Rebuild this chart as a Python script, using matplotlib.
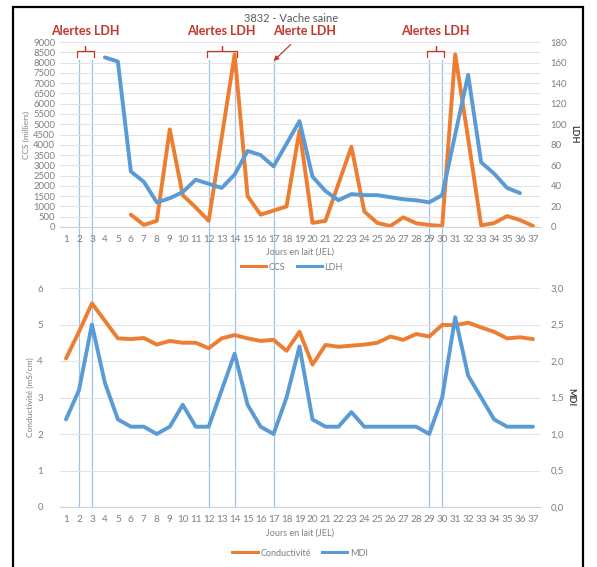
import matplotlib
matplotlib.use("Agg")
import matplotlib.pyplot as plt
from matplotlib.lines import Line2D
from matplotlib.patches import Rectangle
import numpy as np

plt.rcParams['font.family'] = ['Lato', 'DejaVu Sans']

# ---------------- data ----------------
days = list(range(1, 38))
ccs = [None, None, None, None, None, 600, 100, 300, 4750, 1550, 950, 300, 4350, 8400,
       1500, 600, 800, 1000, 4700, 200, 300, 2100, 3900, 750, 200, 50, 470, 180, 100,
       50, 8400, 4300, 80, 190, 530, 340, 50]
ldh = [None, None, None, 165, 161, 54, 44, 24, 28, 34, 46, 42, 38, 51, 74, 70, 59, 81,
       103, 49, 35, 26, 32, 31, 31, 29, 27, 26, 24, 31, 90, 148, 63, 52, 38, 33, None]
cond = [4.07, 4.8, 5.58, 5.1, 4.62, 4.6, 4.63, 4.45, 4.55, 4.5, 4.5, 4.35, 4.62, 4.71,
        4.62, 4.55, 4.58, 4.28, 4.8, 3.9, 4.44, 4.39, 4.42, 4.45, 4.5, 4.67, 4.58, 4.74,
        4.67, 4.99, 4.98, 5.05, 4.92, 4.8, 4.62, 4.65, 4.6]
mdi = [1.2, 1.6, 2.5, 1.7, 1.2, 1.1, 1.1, 1.0, 1.1, 1.4, 1.1, 1.1, 1.6, 2.1, 1.4, 1.1,
       1.0, 1.5, 2.2, 1.2, 1.1, 1.1, 1.3, 1.1, 1.1, 1.1, 1.1, 1.1, 1.0, 1.5, 2.6, 1.8,
       1.5, 1.2, 1.1, 1.1, 1.1]
alert_days = [2, 3, 12, 14, 17, 29, 30]
alert_groups = [("Alertes LDH", 2, 3), ("Alertes LDH", 12, 14), ("Alertes LDH", 29, 30)]
single_alert = ("Alerte LDH", 17)
title = "3832 - Vache saine"

ORANGE = "#ED7D31"
BLUE = "#5B9BD5"
GRAY = "#7f7f7f"
GRID = "#e3e3e3"
RED = "#c0392b"
VLINE = "#9dc3e6"

W, H = 597, 567
fig = plt.figure(figsize=(W / 100, H / 100), dpi=100)
fig.patch.set_facecolor("white")

def fy(py):
    return 1 - py / H

def fx(px):
    return px / W

left = fx(59.5)
width = fx(539.5) - left

ax1 = fig.add_axes([left, fy(227), width, (227 - 42) / H])
ax2 = ax1.twinx()
ax3 = fig.add_axes([left, fy(507), width, (507 - 288) / H])
ax4 = ax3.twinx()

def to_arr(v):
    return np.array([np.nan if x is None else x for x in v], dtype=float)

ax1.plot(days, to_arr(ccs), color=ORANGE, lw=2.8, solid_capstyle="round", label="CCS")
ax2.plot(days, to_arr(ldh), color=BLUE, lw=2.8, solid_capstyle="round", label="LDH")
ax3.plot(days, cond, color=ORANGE, lw=2.8, solid_capstyle="round", label="Conductivité")
ax4.plot(days, mdi, color=BLUE, lw=2.8, solid_capstyle="round", label="MDI")

ax1.set_ylim(0, 9000)
ax1.set_yticks(np.arange(0, 9001, 500))
ax2.set_ylim(0, 180)
ax2.set_yticks(np.arange(0, 181, 20))
ax3.set_ylim(0, 6)
ax3.set_yticks(np.arange(0, 7, 1))
ax4.set_ylim(0, 3)
ax4.set_yticks(np.arange(0, 3.01, 0.5))
ax4.set_yticklabels([f"{v:.1f}".replace(".", ",") for v in np.arange(0, 3.01, 0.5)])

for a in (ax1, ax2, ax3, ax4):
    a.set_xlim(0.5, 37.5)
    a.set_xticks(days)
    a.patch.set_alpha(0)
    for s in a.spines.values():
        s.set_visible(False)
    a.tick_params(length=0, labelsize=7, colors=GRAY, pad=4)

for a in (ax1, ax3):
    a.grid(axis="y", color=GRID, lw=0.8)
    a.set_axisbelow(True)
    a.spines["bottom"].set_visible(True)
    a.spines["bottom"].set_color("#d0d0d0")
    a.tick_params(axis="x", pad=6, labelsize=7.2)
ax1.tick_params(axis="y", labelsize=6.8, pad=3)
ax2.tick_params(axis="y", labelsize=6.8, pad=8)
ax4.tick_params(axis="y", labelsize=7, pad=8)
ax3.tick_params(axis="y", labelsize=7, pad=12)

ax1.set_ylabel("CCS (milliers)", fontsize=6, color=GRAY, labelpad=2)
ax2.set_ylabel("LDH", fontsize=6.5, color="#404040", fontweight="bold", rotation=-90, labelpad=8)
ax3.set_ylabel("Conductivité (mS/cm)", fontsize=6, color=GRAY, labelpad=2)
ax4.set_ylabel("MDI", fontsize=6.5, color="#404040", fontweight="bold", rotation=-90, labelpad=8)
ax1.set_xlabel("Jours en lait (JEL)", fontsize=6.5, color=GRAY, labelpad=2)
ax3.set_xlabel("Jours en lait (JEL)", fontsize=6.5, color=GRAY, labelpad=3)

# vertical alert lines spanning both charts
for d in alert_days:
    ln = Line2D([d, d], [fy(60), fy(507)],
                transform=matplotlib.transforms.blended_transform_factory(ax3.transData, fig.transFigure),
                color=VLINE, lw=0.9, zorder=-1)
    fig.lines.append(ln)

# brackets + labels
tr = ax1.get_xaxis_transform()
def ay(py):
    return (227 - py) / 185

for label, d0, d1 in alert_groups:
    xs = [d0 - 0.15, d0 - 0.15, (d0 + d1) / 2, (d0 + d1) / 2, (d0 + d1) / 2, d1 + 0.15, d1 + 0.15]
    ys = [ay(57), ay(51), ay(51), ay(46), ay(51), ay(51), ay(57)]
    ax1.plot(xs, ys, color=RED, lw=0.9, transform=tr, clip_on=False)
    ax1.text((d0 + d1) / 2, ay(31), label, transform=tr, ha="center", va="center",
             color=RED, fontsize=9, fontweight="bold")

lbl, d = single_alert
ax1.annotate(lbl, xy=(d, ay(61)), xycoords=tr, xytext=(d + 2.4, ay(31)), textcoords=tr,
             ha="center", va="center", color=RED, fontsize=9, fontweight="bold",
             arrowprops=dict(arrowstyle="-|>", color=RED, lw=0.9, mutation_scale=7,
                             shrinkA=5, shrinkB=0))

fig.text(fx(291), fy(19), title, ha="center", va="center", fontsize=8, color="#595959")

# legends
h1 = [Line2D([], [], color=ORANGE, lw=2.2), Line2D([], [], color=BLUE, lw=2.2)]
fig.legend(h1, ["CCS", "LDH"], loc="center", bbox_to_anchor=(fx(292), fy(267)), ncol=2,
           frameon=False, fontsize=6.5, labelcolor=GRAY, handlelength=2.8, columnspacing=1.2,
           handletextpad=0.3)
fig.legend(h1, ["Conductivité", "MDI"], loc="center", bbox_to_anchor=(fx(300), fy(553)), ncol=2,
           frameon=False, fontsize=6.5, labelcolor=GRAY, handlelength=2.8, columnspacing=1.2,
           handletextpad=0.3)

# outer frame
fig.patches.append(Rectangle((fx(13), fy(600)), fx(583) - fx(13), fy(7) - fy(600),
                             transform=fig.transFigure, fill=False, ec="black", lw=1.6))

fig.savefig("out.png", dpi=100)
